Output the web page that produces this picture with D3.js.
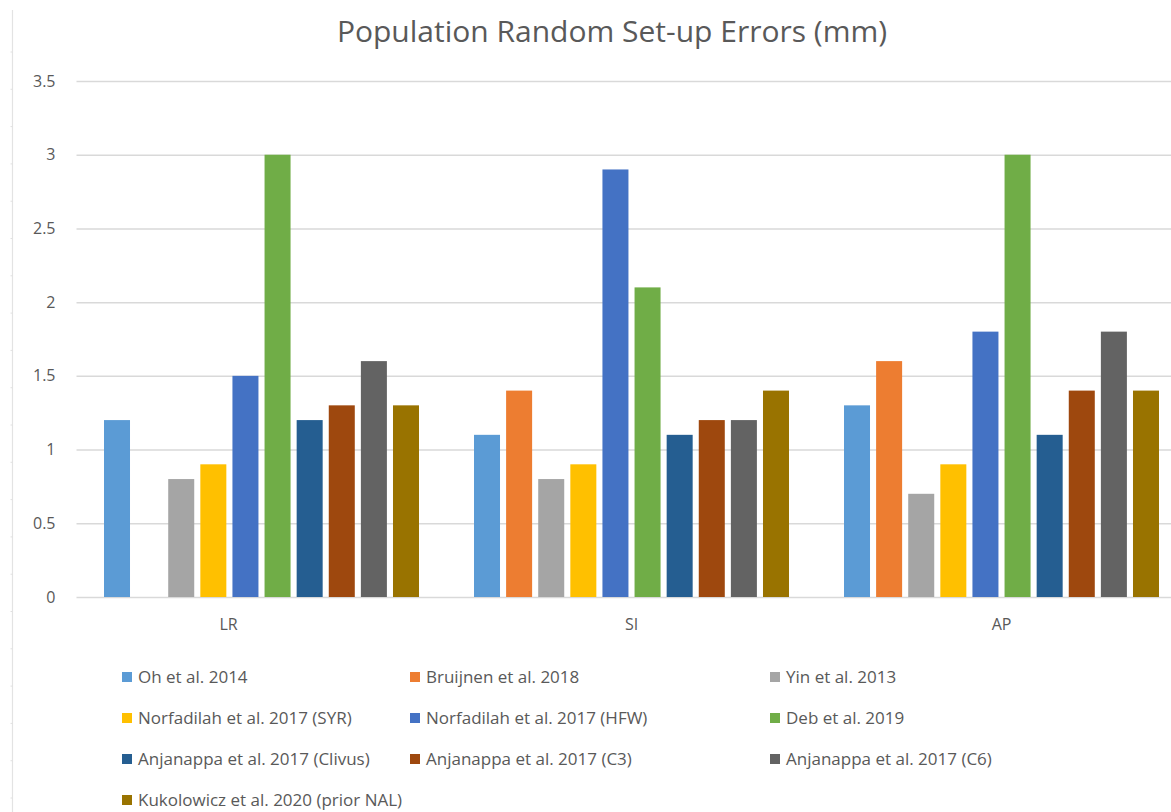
<!DOCTYPE html>
<html>
<head>
<meta charset="utf-8">
<script src="https://cdn.jsdelivr.net/npm/d3@7/dist/d3.min.js"></script>
<style>
  html, body { margin: 0; padding: 0; background: #fff; }
  svg { display: block; font-family: "Open Sans", "Noto Sans", sans-serif; }
</style>
</head>
<body>
<svg id="chart" width="1171" height="812"></svg>
<script>
const title = "Population Random Set-up Errors (mm)";
const categories = ["LR", "SI", "AP"];
const seriesNames = [
  "Oh et al. 2014",
  "Bruijnen et al. 2018",
  "Yin et al. 2013",
  "Norfadilah et al. 2017 (SYR)",
  "Norfadilah et al. 2017 (HFW)",
  "Deb et al. 2019",
  "Anjanappa et al. 2017 (Clivus)",
  "Anjanappa et al. 2017 (C3)",
  "Anjanappa et al. 2017 (C6)",
  "Kukolowicz et al. 2020 (prior NAL)"
];
const seriesColors = ["#5B9BD5", "#ED7D31", "#A5A5A5", "#FFC000", "#4472C4", "#70AD47", "#255E91", "#9E480E", "#636363", "#997300"];
// values per series: [LR, SI, AP]
const ohValues = [1.2, 1.1, 1.3];
const bruijnenValues = [null, 1.4, 1.6];
const yinValues = [0.8, 0.8, 0.7];
const norfSyrValues = [0.9, 0.9, 0.9];
const norfHfwValues = [1.5, 2.9, 1.8];
const debValues = [3.0, 2.1, 3.0];
const anjClivusValues = [1.2, 1.1, 1.1];
const anjC3Values = [1.3, 1.2, 1.4];
const anjC6Values = [1.6, 1.2, 1.8];
const kukoValues = [1.3, 1.4, 1.4];
const yTicks = [0, 0.5, 1, 1.5, 2, 2.5, 3, 3.5];

const seriesValues = [ohValues, bruijnenValues, yinValues, norfSyrValues, norfHfwValues,
  debValues, anjClivusValues, anjC3Values, anjC6Values, kukoValues];

const svg = d3.select("#chart");
const textColor = "#595959";
const gridColor = "#d9d9d9";

const plotLeft = 76.5, plotRight = 1186.5, plotTop = 81, plotBottom = 597;

// left page edge line with small marks
svg.append("line").attr("x1", 12.5).attr("x2", 12.5).attr("y1", 10).attr("y2", 812)
  .attr("stroke", "#e3e3e3").attr("stroke-width", 1.2);
d3.range(52, 812, 37.3).forEach(yy => {
  svg.append("line").attr("x1", 10.5).attr("x2", 12.5).attr("y1", yy).attr("y2", yy)
    .attr("stroke", "#e0e0e0").attr("stroke-width", 1);
});

const y = d3.scaleLinear().domain([0, 3.5]).range([plotBottom, plotTop]);
const x0 = d3.scaleBand().domain(categories).range([plotLeft, plotRight])
  .paddingInner(55 / 370).paddingOuter(55 / 740);
const x1 = d3.scaleBand().domain(seriesNames).range([0, x0.bandwidth()])
  .paddingInner(0.19).paddingOuter(0);

// gridlines + y labels
const yAxis = d3.axisLeft(y).tickValues(yTicks).tickSize(-(plotRight - plotLeft)).tickPadding(21)
  .tickFormat(d => d3.format("")(d));
const yg = svg.append("g").attr("transform", `translate(${plotLeft},0)`).call(yAxis);
yg.select(".domain").remove();
yg.selectAll(".tick line").attr("stroke", gridColor).attr("stroke-width", 1.5);
yg.selectAll(".tick text").attr("fill", textColor).attr("font-size", 16).attr("font-family", "'Open Sans', sans-serif");

// bars
const groups = svg.append("g").selectAll("g").data(categories).join("g")
  .attr("transform", c => `translate(${x0(c)},0)`);
groups.selectAll("rect")
  .data((c, ci) => seriesNames.map((s, si) => ({ s, si, v: seriesValues[si][ci] })).filter(d => d.v != null))
  .join("rect")
  .attr("x", d => x1(d.s))
  .attr("width", x1.bandwidth())
  .attr("y", d => y(d.v))
  .attr("height", d => y(0) - y(d.v))
  .attr("fill", d => seriesColors[d.si]);

// x axis labels
const xAxis = d3.axisBottom(x0).tickSize(0).tickPadding(22);
const xg = svg.append("g").attr("transform", `translate(0,${plotBottom})`).call(xAxis);
xg.select(".domain").remove();
xg.selectAll(".tick text").attr("fill", textColor).attr("font-size", 16)
  .attr("font-family", "'Open Sans', sans-serif")
  .attr("dx", d => d === "LR" ? -33 : 0);

// title
svg.append("text").attr("x", 612).attr("y", 42).attr("text-anchor", "middle")
  .attr("fill", textColor).attr("font-size", 30).attr("font-family", "'Open Sans', sans-serif")
  .text(title);

// legend
const legendCols = [122, 410, 770];
const legendRows = [677, 718, 759, 800];
const lg = svg.append("g").selectAll("g").data(seriesNames).join("g")
  .attr("transform", (d, i) => `translate(${legendCols[i % 3]},${legendRows[Math.floor(i / 3)]})`);
lg.append("rect").attr("x", 0).attr("y", -5).attr("width", 10).attr("height", 10)
  .attr("fill", (d, i) => seriesColors[i]);
lg.append("text").attr("x", 16).attr("y", 0).attr("dy", "0.35em")
  .attr("fill", textColor).attr("font-size", 17).attr("font-family", "'Open Sans', sans-serif")
  .text(d => d);
</script>
</body>
</html>
